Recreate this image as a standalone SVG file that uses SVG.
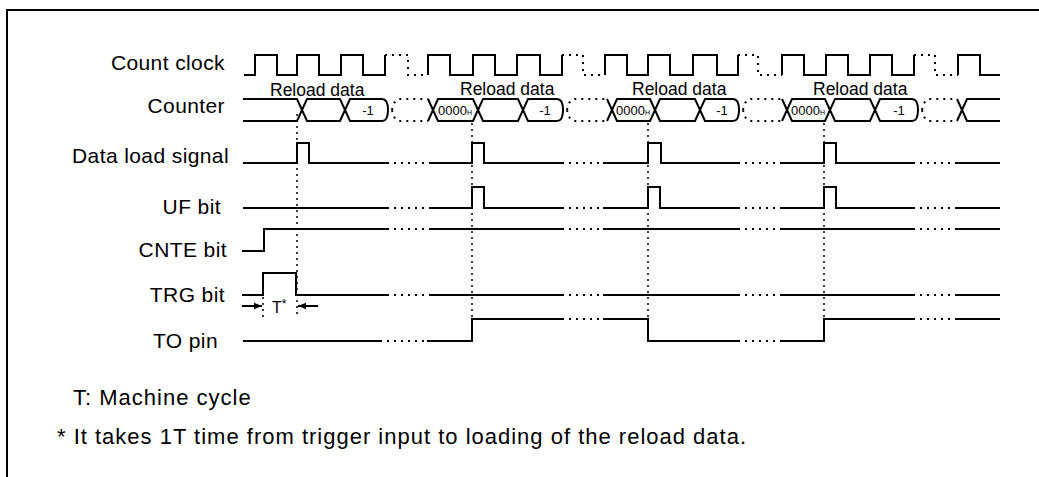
<svg xmlns="http://www.w3.org/2000/svg" width="1039" height="477" viewBox="0 0 1039 477">
<defs>
<style>
.sig{fill:none;stroke:#000;stroke-width:2;stroke-linejoin:miter}
.dot{fill:none;stroke:#000;stroke-width:2;stroke-dasharray:2 5}
.vdot{fill:none;stroke:#000;stroke-width:1.5;stroke-dasharray:2 4}
.lbl{font-family:"Liberation Sans",Arial,sans-serif;font-size:21px;letter-spacing:0.4px;fill:#000;text-anchor:end}
.rl{font-family:"Liberation Sans",Arial,sans-serif;font-size:17.5px;fill:#000}
.sm{font-family:"Liberation Sans",Arial,sans-serif;font-size:13px;fill:#000;text-anchor:middle}
.note{font-family:"Liberation Sans",Arial,sans-serif;font-size:22px;letter-spacing:1px;fill:#000}
</style>
<marker id="ah" viewBox="0 0 10 10" refX="10" refY="5" markerWidth="8" markerHeight="8" markerUnits="userSpaceOnUse" orient="auto">
<path d="M0,1 L10,5 L0,9 Z" fill="#000"/>
</marker>
</defs>
<rect width="1039" height="477" fill="#fff"/>
<path d="M7,477 V10 H1039" fill="none" stroke="#000" stroke-width="2"/>

<g id="count-clock">
<text class="lbl" x="225" y="70">Count clock</text>
<path class="sig" d="M244,75 H255 V55 H277 V75 H297 V55 H319 V75 H341 V55 H363 V75 H385 V55"/>
<path class="dot" d="M385,55 H408 V75 H428"/>
<path class="sig" d="M428,75 V55 H450 V75 H473 V55 H495 V75 H517 V55 H540 V75 H562 V55"/>
<path class="dot" d="M562,55 H583 V75 H605"/>
<path class="sig" d="M605,75 V55 H627 V75 H648 V55 H670 V75 H693 V55 H717 V75 H738 V55"/>
<path class="dot" d="M738,55 H758 V75 H782"/>
<path class="sig" d="M782,75 V55 H804 V75 H826 V55 H848 V75 H870 V55 H892 V75 H914 V55"/>
<path class="dot" d="M914,55 H935 V75 H958"/>
<path class="sig" d="M958,75 V55 H980 V75 H1000"/>
</g>

<g id="counter">
<text class="lbl" x="225" y="113">Counter</text>
<text class="rl" x="270" y="96">Reload data</text>
<text class="rl" x="460" y="95">Reload data</text>
<text class="rl" x="632" y="95">Reload data</text>
<text class="rl" x="813" y="95">Reload data</text>
<path class="sig" d="M243,99 H297 L307,121 H340 L350,99 H382 Q388,99 388,110"/>
<path class="sig" d="M243,121 H297 L307,99 H340 L350,121 H382 Q388,121 388,110"/>
<path class="dot" d="M392,110 Q394,99 400,99 H428 M392,110 Q394,121 400,121 H428"/>
<path class="sig" d="M428,99 L438,121 H473 L483,99 H518 L528,121 H557 Q563,121 563,110"/>
<path class="sig" d="M428,121 L438,99 H473 L483,121 H518 L528,99 H557 Q563,99 563,110"/>
<path class="dot" d="M567,110 Q569,99 575,99 H607 M567,110 Q569,121 575,121 H607"/>
<path class="sig" d="M607,99 L617,121 H650 L660,99 H695 L705,121 H733 Q739,121 739,110"/>
<path class="sig" d="M607,121 L617,99 H650 L660,121 H695 L705,99 H733 Q739,99 739,110"/>
<path class="dot" d="M743,110 Q745,99 751,99 H782 M743,110 Q745,121 751,121 H782"/>
<path class="sig" d="M782,99 L792,121 H825 L835,99 H870 L880,121 H912 Q918,121 918,110"/>
<path class="sig" d="M782,121 L792,99 H825 L835,121 H870 L880,99 H912 Q918,99 918,110"/>
<path class="dot" d="M922,110 Q924,99 930,99 H957 M922,110 Q924,121 930,121 H957"/>
<path class="sig" d="M957,99 L967,121 H1000 M957,121 L967,99 H1000"/>
<text class="sm" x="368" y="115">-1</text>
<text class="sm" x="545" y="115">-1</text>
<text class="sm" x="722" y="115">-1</text>
<text class="sm" x="899" y="115">-1</text>
<text class="sm" x="455" y="115" font-size="11.5">0000<tspan font-size="7">H</tspan></text>
<text class="sm" x="633" y="115" font-size="11.5">0000<tspan font-size="7">H</tspan></text>
<text class="sm" x="808" y="115" font-size="11.5">0000<tspan font-size="7">H</tspan></text>
</g>

<g id="data-load-signal">
<text class="lbl" x="229" y="163">Data load signal</text>
<path class="sig" d="M243,163 H297 V143 H309 V163 H387 M430,163 H472 V143 H484 V163 H562 M603,163 H648 V143 H661 V163 H738 M780,163 H824 V143 H836 V163 H913 M955,163 H1000"/>
<path class="dot" d="M387,163 H430 M562,163 H603 M738,163 H780 M913,163 H955"/>
</g>

<g id="uf-bit">
<text class="lbl" x="221" y="214">UF bit</text>
<path class="sig" d="M243,208 H387 M430,208 H472 V187 H484 V208 H562 M603,208 H648 V187 H660 V208 H738 M780,208 H824 V187 H836 V208 H913 M955,208 H1000"/>
<path class="dot" d="M387,208 H430 M562,208 H603 M738,208 H780 M913,208 H955"/>
</g>

<g id="cnte-bit">
<text class="lbl" x="227" y="257">CNTE bit</text>
<path class="sig" d="M242,251 H264 V229 H387 M430,229 H562 M603,229 H738 M780,229 H913 M955,229 H1000"/>
<path class="dot" d="M387,229 H430 M562,229 H603 M738,229 H780 M913,229 H955"/>
</g>

<g id="trg-bit">
<text class="lbl" x="225" y="302">TRG bit</text>
<path class="sig" d="M242,295 H263 V273 H296 V295 H387 M430,295 H562 M603,295 H738 M780,295 H913 M955,295 H1000"/>
<path class="dot" d="M387,295 H430 M562,295 H603 M738,295 H780 M913,295 H955"/>
<text x="272" y="313" style="font-family:'Liberation Sans',Arial,sans-serif;font-size:16px">T<tspan font-size="12" dy="-5">*</tspan></text>
</g>

<g id="to-pin">
<text class="lbl" x="218" y="348">TO pin</text>
<path class="sig" d="M243,341 H380 M427,341 H472 V319 H562 M603,319 H648 V341 H738 M780,341 H824 V319 H913 M955,319 H1000"/>
<path class="dot" d="M380,341 H427 M562,319 H603 M738,341 H780 M913,319 H955"/>
</g>

<g id="connectors">
<path class="vdot" d="M297,114 V318 M263,273 V318 M472,123 V319 M648,123 V319 M824,123 V319"/>
<line x1="242" y1="306" x2="262" y2="306" stroke="#000" stroke-width="2" marker-end="url(#ah)"/>
<line x1="318" y1="306" x2="298" y2="306" stroke="#000" stroke-width="2" marker-end="url(#ah)"/>
</g>

<g id="notes">
<text class="note" x="73" y="405">T:  Machine cycle</text>
<text class="note" x="57" y="444">*  It takes 1T time from trigger input to loading of the reload data.</text>
</g>
</svg>
